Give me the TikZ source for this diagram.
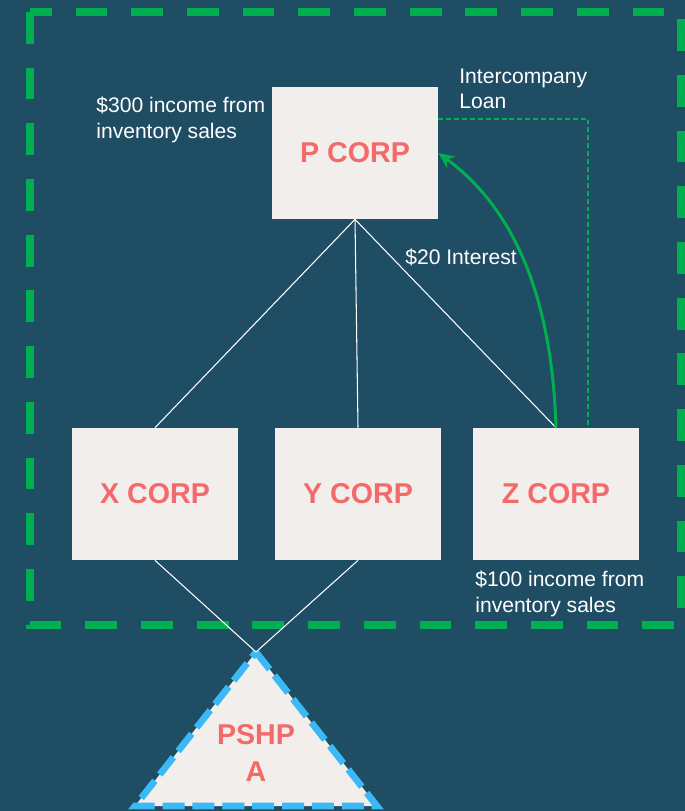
\documentclass[tikz,border=0pt]{standalone}
\usepackage{fontspec}
\setmainfont{Liberation Sans}
\usetikzlibrary{arrows.meta}
\definecolor{bgblue}{RGB}{31,77,99}
\definecolor{boxfill}{RGB}{242,238,235}
\definecolor{corpred}{RGB}{244,106,106}
\definecolor{loangreen}{RGB}{0,176,80}
\definecolor{pshpblue}{RGB}{59,185,247}
\tikzset{corp/.style={fill=boxfill,rectangle,minimum width=3.32cm,minimum height=2.64cm,inner sep=0pt,text=corpred,font=\fontsize{16.3}{19}\selectfont\bfseries},
note/.style={anchor=north west,inner sep=0pt,align=left,text=white,font=\fontsize{12}{14.3}\selectfont}}

\begin{document}
\begin{tikzpicture}[x=0.02cm,y=-0.02cm]
\useasboundingbox[fill=bgblue] (0,0) rectangle (685,811);
\path[draw,color=loangreen,line width=4pt,dash pattern=on 18.1pt off 13.6pt] (30,12) rectangle (681,625);
\path
(355,153) node[corp](p){P CORP}
(155,494) node[corp](x){X CORP}
(358,494) node[corp](y){Y CORP}
(556,494) node[corp](z){Z CORP};
\coordinate (apex) at (256,652);
\path[fill=boxfill,draw=pshpblue,line width=3.8pt,dash pattern=on 12.5pt off 4.5pt] (apex)--(377,806)--(135,806)--cycle;
\node[text=corpred,align=center,font=\fontsize{16.3}{21}\selectfont\bfseries] (pshp) at (256,753) {PSHP\\A};
\path[draw,color=white,line width=0.6pt] (p.south)--(x.north);
\path[draw,color=white,line width=0.6pt] (p.south)--(y.north);
\path[draw,color=white,line width=0.6pt] (p.south)--(z.north);
\path[draw,color=white,line width=0.6pt] (x.south)--(apex);
\path[draw,color=white,line width=0.6pt] (y.south)--(apex);
\coordinate (loan) at (588,119);
\path[draw,color=loangreen,line width=0.6pt,dash pattern=on 2.8pt off 1.7pt] (p.east|-loan)--(loan)--(loan|-z.north);
\path[draw,color=loangreen,line width=1.7pt,-{Stealth[length=9pt,width=8pt]}] (z.north) .. controls (553,330) and (530,220) .. (p.east);
\node[note] (pnote) at (96,97) {\$300 income from\\inventory sales};
\node[note] (loannote) at (459,69) {Intercompany\\Loan};
\node[note] (interest) at (405,249) {\$20 Interest};
\node[note] (znote) at (475,571) {\$100 income from\\inventory sales};
\end{tikzpicture}
\end{document}
